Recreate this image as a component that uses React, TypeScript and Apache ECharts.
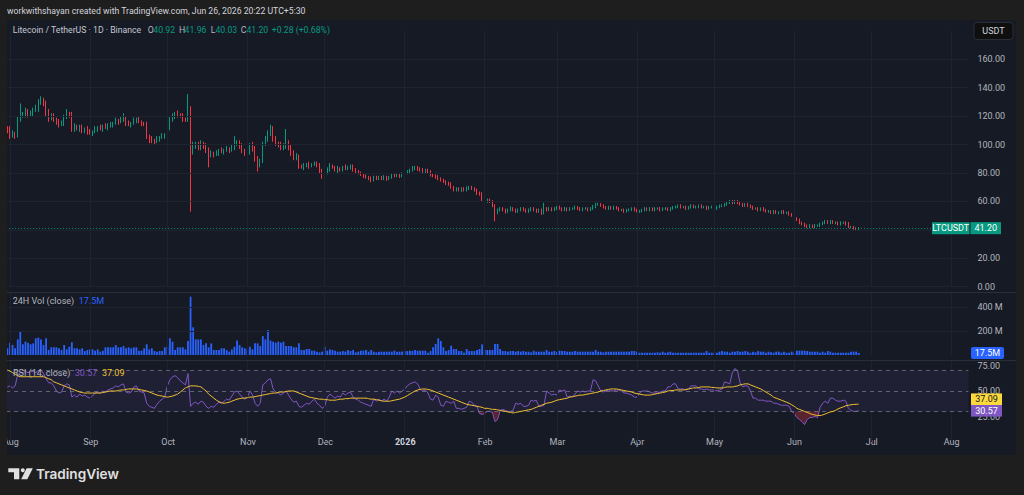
import React, { useEffect, useRef } from "react";
import * as echarts from "echarts";

// ---------- data (daily candles, first candle 2025-07-31) ----------
const FIRST_DATE = "2025-07-31";
const TOTAL_DAYS = 373; // visible time range incl. empty space on the right
const FIRST_OPEN = 111;

const closes = [
  110, 107, 108, 106, 118, 120, 121, 123, 121, 122,
  124, 125, 130, 132, 129, 122, 119, 120, 118, 116,
  114, 115, 119, 122, 121, 111, 113, 111, 112, 110,
  111, 109, 108, 109, 111, 112, 111, 113, 112, 113,
  114, 115, 117, 116, 118, 119, 115, 114, 115, 117,
  118, 116, 115, 114, 106, 104, 103, 102, 104, 105,
  106, 107, 112, 117, 120, 122, 121, 120, 118, 117,
  126, 96, 99, 100, 98, 101, 99, 96, 93, 94,
  93, 94, 96, 95, 96, 97, 96, 98, 100, 101,
  99, 96, 94, 95, 99, 97, 90, 86, 88, 101,
  104, 108, 111, 104, 101, 100, 98, 99, 101, 98,
  94, 91, 92, 85, 84, 85, 86, 85, 86, 87,
  85, 82, 79, 80, 83, 85, 84, 82, 83, 82,
  84, 83, 84, 85, 82, 81, 80, 79, 78, 77,
  76, 75, 77, 76, 77, 76, 77, 76, 77, 79,
  78, 79, 78, 79, 80, 81, 82, 83, 84, 83,
  82, 81, 82, 81, 79, 78, 77, 76, 75, 74,
  73, 72, 70, 68, 69, 68, 69, 68, 69, 70,
  69, 68, 66, 65, 61, 60, 61, 60, 57, 52,
  54, 55, 54, 53, 54, 55, 54, 53, 54, 55,
  54, 53, 54, 55, 54, 53, 54, 52, 55, 54,
  55, 54, 55, 56, 55, 54, 55, 54, 55, 55,
  56, 55, 54, 55, 55, 54, 55, 56, 58, 58,
  57, 56, 55, 56, 55, 56, 55, 54, 54, 53,
  54, 54, 55, 54, 53, 53, 54, 55, 54, 55,
  54, 55, 55, 54, 55, 55, 54, 55, 56, 56,
  57, 56, 56, 55, 56, 57, 56, 56, 57, 56,
  56, 55, 56, 56, 55, 56, 57, 57, 58, 59,
  60, 59, 60, 59, 58, 57, 58, 57, 56, 55,
  55, 54, 55, 54, 53, 53, 52, 53, 52, 52,
  53, 52, 52, 51, 50, 48, 47, 45, 44, 43,
  42, 43, 42, 43, 43, 44, 45, 46, 45, 46,
  45, 45, 44, 45, 45, 44, 42, 42, 41, 40.92,
  41.2,
];

const wickUp = [
  2, 3, 2, 1, 2, 9, 2, 3, 2, 2,
  2, 3, 2, 2, 1, 2, 3, 2, 2, 1,
  2, 2, 2, 3, 1, 2, 2, 1, 2, 2,
  1, 2, 2, 1, 2, 1, 2, 1, 2, 2,
  2, 1, 2, 1, 2, 3, 1, 2, 1, 2,
  1, 2, 1, 1, 2, 1, 2, 1, 2, 1,
  2, 1, 2, 3, 2, 1, 2, 1, 2, 1,
  9.6, 1, 3, 2, 2, 2, 1, 2, 2, 2,
  1, 2, 1, 2, 1, 2, 1, 2, 6, 2,
  2, 2, 1, 2, 2, 3, 2, 2, 2, 1,
  2, 2, 3, 2, 2, 1, 2, 2, 10, 2,
  2, 2, 2, 1, 1, 2, 1, 2, 1, 1,
  1, 2, 1, 2, 1, 2, 1, 1, 2, 1,
  1, 2, 1, 1, 1, 1.5, 1, 1, 1, 1,
  1, 1.5, 1, 1, 1, 1, 1.5, 1, 1, 1,
  1, 1, 1, 1.5, 1, 1, 1, 2, 1, 1,
  1, 1.5, 1, 1, 1, 1, 1, 1.5, 1, 1,
  1, 1, 1.5, 1, 1, 1, 1, 1, 1.5, 1,
  1, 1, 1, 1, 1.5, 1, 1, 1, 1, 1,
  1, 1, 1, 1, 1, 1.5, 1, 1, 1, 1,
  1, 1, 1, 1, 1, 1, 1, 1, 4, 1,
  1, 0.8, 1, 0.8, 1, 0.8, 1, 0.8, 1, 0.8,
  1, 0.8, 1, 0.8, 1, 0.8, 1, 1.5, 1, 1,
  0.8, 1, 0.8, 1, 0.8, 1, 0.8, 1, 0.8, 1,
  0.8, 1, 0.8, 1, 0.8, 1, 0.8, 1, 0.8, 1,
  0.8, 1, 0.8, 1, 0.8, 1, 0.8, 1, 0.8, 1,
  0.8, 1, 0.8, 1, 0.8, 1, 0.8, 1, 0.8, 1,
  0.8, 1, 0.8, 1, 0.8, 1, 0.8, 1, 0.8, 1,
  1, 1, 1, 1, 0.8, 1, 0.8, 1, 0.8, 1,
  0.8, 1, 0.8, 1, 0.8, 1, 0.8, 1, 0.8, 1,
  0.8, 1, 0.8, 1, 0.8, 1, 0.8, 1, 0.8, 1,
  0.8, 1, 0.8, 1, 0.8, 1, 0.8, 1, 0.8, 1,
  0.8, 1, 0.8, 1, 0.8, 1, 1.5, 0.8, 0.8, 0.8,
  0.76,
];

const wickDn = [
  2, 3, 2, 2, 1, 2, 1, 2, 2, 1,
  2, 1, 2, 2, 2, 2, 3, 2, 2, 2,
  2, 1, 2, 1, 2, 2, 2, 1, 2, 2,
  2, 2, 1, 2, 1, 2, 1, 2, 1, 2,
  1, 2, 1, 2, 1, 2, 2, 1, 2, 1,
  2, 1, 2, 1, 2, 3, 2, 2, 1, 2,
  1, 2, 1, 2, 1, 2, 2, 1, 2, 1,
  1, 43.2, 3, 2, 2, 2, 2, 2, 9, 2,
  2, 1, 2, 1, 2, 1, 2, 1, 2, 1,
  2, 2, 2, 1, 2, 2, 2, 5, 2, 1,
  2, 2, 2, 2, 2, 2, 2, 2, 2, 2,
  2, 2, 2, 2, 1, 2, 1, 2, 1, 1,
  1, 2, 3, 1, 1, 2, 1, 1, 2, 1,
  1, 1, 1, 1.5, 1, 1, 1, 1, 1.5, 1,
  1, 1.5, 1, 1, 1, 1, 1, 1.5, 1, 1,
  1, 1, 1.5, 1, 1, 1, 1, 1, 1, 1.5,
  1, 1, 1, 1, 1.5, 1, 1, 1, 1, 1,
  1.5, 1, 1, 1, 1, 1, 1.5, 1, 1, 1,
  1, 1, 1.5, 1, 1, 1, 1, 1, 1, 6,
  1, 1, 1, 1.5, 1, 1, 1, 1, 1, 1,
  1, 1, 1, 1, 1, 1, 1, 1.5, 1, 1,
  0.8, 1, 0.8, 1, 0.8, 1, 0.8, 1, 0.8, 1,
  0.8, 1, 0.8, 1, 0.8, 1, 0.8, 1, 0.8, 1,
  0.8, 1, 0.8, 1, 0.8, 1, 0.8, 1, 0.8, 1,
  0.8, 1, 0.8, 1, 0.8, 1, 0.8, 1, 0.8, 1,
  0.8, 1, 0.8, 1, 0.8, 1, 0.8, 1, 0.8, 1,
  0.8, 1, 0.8, 1, 0.8, 1, 0.8, 1, 0.8, 1,
  0.8, 1, 0.8, 1, 0.8, 1, 0.8, 1, 0.8, 1,
  0.8, 1, 0.8, 1, 0.8, 1, 0.8, 1, 0.8, 1,
  0.8, 1, 0.8, 1, 0.8, 1, 0.8, 1, 0.8, 1,
  0.8, 1, 0.8, 1, 0.8, 1, 0.8, 1, 0.8, 1,
  0.8, 1, 0.8, 1, 0.8, 1, 0.8, 1, 0.8, 1,
  0.8, 1, 0.8, 1, 0.8, 1, 0.8, 1, 0.8, 1,
  0.89,
];

// 24H volume, millions
const volumes = [
  56, 103, 83, 56, 130, 195, 89, 111, 103, 89,
  97, 139, 145, 130, 83, 139, 42, 64, 64, 64,
  56, 42, 83, 47, 69, 106, 56, 56, 47, 56,
  33, 42, 47, 47, 36, 47, 28, 36, 64, 64,
  64, 64, 83, 64, 64, 75, 56, 64, 56, 64,
  64, 36, 36, 56, 89, 47, 56, 33, 28, 33,
  33, 64, 69, 139, 111, 42, 64, 64, 64, 47,
  117, 486, 231, 130, 130, 130, 83, 97, 64, 97,
  42, 42, 42, 56, 56, 42, 28, 47, 69, 120,
  83, 64, 56, 47, 69, 47, 97, 97, 75, 158,
  130, 209, 120, 111, 103, 111, 103, 111, 75, 75,
  75, 64, 64, 97, 42, 42, 50, 50, 36, 36,
  28, 22, 28, 69, 36, 47, 42, 36, 28, 28,
  33, 28, 42, 33, 42, 22, 28, 36, 36, 42,
  28, 42, 28, 22, 28, 28, 28, 28, 28, 28,
  36, 28, 28, 28, 33, 33, 36, 33, 42, 36,
  36, 36, 36, 19, 33, 64, 92, 139, 117, 64,
  33, 42, 78, 50, 50, 33, 33, 19, 50, 33,
  33, 33, 42, 50, 89, 42, 42, 42, 42, 92,
  92, 50, 33, 33, 28, 33, 33, 28, 33, 28,
  33, 28, 28, 22, 36, 28, 28, 28, 28, 42,
  28, 28, 33, 28, 36, 33, 33, 28, 28, 28,
  33, 28, 28, 28, 28, 28, 28, 28, 42, 28,
  28, 22, 28, 28, 28, 28, 28, 28, 28, 28,
  28, 28, 33, 33, 28, 19, 19, 19, 19, 19,
  19, 19, 22, 19, 28, 19, 22, 28, 19, 19,
  19, 19, 19, 19, 19, 19, 19, 19, 19, 19,
  19, 33, 19, 19, 19, 19, 28, 33, 28, 28,
  19, 28, 28, 33, 28, 28, 33, 28, 19, 28,
  22, 33, 28, 28, 19, 28, 22, 19, 28, 28,
  19, 28, 19, 19, 28, 19, 36, 36, 36, 36,
  33, 28, 28, 28, 28, 19, 28, 19, 33, 28,
  19, 19, 19, 19, 19, 19, 19, 28, 28, 28,
  17.5,
];

const rsi = [
  54, 55, 53, 55, 66, 68, 68, 69, 68, 69,
  69, 68, 70, 71, 67, 62, 58, 58, 55, 50,
  48, 49, 55, 57, 56, 44, 46, 44, 47, 45,
  46, 44, 43, 45, 48, 49, 48, 50, 49, 51,
  52, 53, 55, 54, 56, 57, 49, 48, 49, 54,
  55, 50, 49, 48, 38, 35, 34, 33, 37, 40,
  42, 44, 55, 61, 64, 65, 63, 60, 58, 56,
  67, 35, 38, 39, 37, 40, 39, 35, 33, 35,
  34, 37, 39, 38, 40, 42, 41, 45, 49, 50,
  47, 44, 42, 44, 50, 46, 38, 35, 38, 56,
  58, 61, 62, 52, 49, 48, 46, 48, 50, 46,
  42, 39, 40, 35, 34, 36, 38, 37, 40, 42,
  38, 36, 33, 35, 44, 47, 45, 43, 45, 44,
  48, 46, 48, 49, 44, 42, 41, 39, 38, 37,
  36, 35, 42, 40, 42, 40, 42, 40, 44, 50,
  48, 50, 48, 50, 52, 55, 57, 58, 59, 57,
  52, 50, 51, 48, 42, 41, 46, 44, 36, 35,
  40, 39, 38, 40, 33, 33, 32, 33, 34, 40,
  39, 36, 35, 28, 27, 28, 30, 30, 29, 20,
  22, 31, 32, 31, 30, 30, 31, 38, 37, 38,
  35, 35, 36, 41, 40, 41, 35, 35, 36, 50,
  48, 46, 47, 46, 51, 50, 51, 44, 45, 44,
  47, 50, 49, 50, 49, 50, 50, 61, 60, 55,
  50, 49, 50, 51, 50, 50, 51, 51, 50, 48,
  48, 47, 46, 44, 44, 48, 50, 50, 50, 49,
  48, 48, 48, 49, 50, 50, 54, 54, 57, 57,
  52, 52, 52, 51, 52, 55, 55, 55, 52, 52,
  51, 52, 51, 51, 51, 50, 51, 52, 59, 58,
  57, 68, 72, 70, 58, 54, 55, 55, 50, 43,
  43, 41, 41, 41, 40, 40, 40, 38, 38, 37,
  36, 36, 36, 35, 30, 28, 24, 22, 20, 17,
  22, 24, 24, 25, 24, 34, 38, 40, 38, 43,
  43, 41, 40, 40, 41, 40, 33, 31, 30, 30,
  30.57,
];

const rsiMa = [
  70.6, 69.5, 68, 66.5, 65, 64, 64, 64, 64, 64,
  64, 64, 64, 64, 64, 63, 62, 61, 59, 58,
  57, 56, 55, 54, 53, 52, 51, 50, 49, 48.5,
  48, 48, 48, 48, 48, 48, 48, 48.5, 49, 49.5,
  50, 50, 50, 50.5, 51, 51, 51.5, 52, 52, 52,
  52, 51.5, 51, 50.5, 50, 49, 48, 47, 46, 45.5,
  45, 44.5, 44, 44.5, 45, 46, 47, 49, 51, 53,
  54, 55, 55, 55, 54.5, 54, 52, 50, 47, 45,
  43, 41, 39.5, 38.5, 38, 38.5, 39, 40, 41, 42,
  42.5, 43, 43, 43.5, 44, 44, 44.5, 45, 45.5, 46,
  46.5, 47, 47.5, 48, 48, 48.5, 49, 49, 49.5, 50,
  50, 50, 49, 48, 47, 46, 45, 44, 43.5, 43,
  42.5, 42, 42, 41.5, 41.5, 41, 41, 41, 41.5, 42,
  42, 42.5, 42.5, 43, 43, 43, 43, 43, 43, 43,
  42.5, 42, 42, 41.5, 41, 40.5, 40, 40, 40, 40.5,
  41, 41.5, 42, 43, 44, 45.5, 47, 48.5, 50, 51,
  51.5, 52, 52, 51.5, 51, 50, 49, 48, 47, 46,
  45, 44, 43, 42, 41, 40, 39, 38, 37, 36.5,
  36, 35.5, 35, 34.5, 34, 33, 33, 32.5, 32, 32,
  31.5, 31, 30.5, 30, 29.5, 29, 28.5, 29, 29.5, 30,
  30.5, 31, 31.5, 32, 33, 34, 35, 36, 37, 38,
  38.5, 39, 40, 41, 41.5, 42, 42.5, 43, 44, 44.5,
  45, 45.5, 46, 46, 46.5, 47, 47.5, 48, 48.5, 49,
  50, 50.5, 51, 51.5, 52, 52, 52, 51.5, 51, 50.5,
  50, 49.5, 49, 48, 47.5, 47, 46.5, 46, 46, 46,
  46.5, 47, 47.5, 48, 48.5, 49, 50, 50.5, 50.5, 51,
  51, 51, 51, 51.5, 52, 52.5, 53, 53, 53.5, 54,
  54, 54, 54, 53.5, 53.5, 53, 53, 53, 53.5, 54,
  54, 54, 54.5, 55, 56, 56.5, 57, 57, 56, 55,
  54, 53, 52, 50.5, 49, 47.5, 46, 44, 43, 42,
  41, 40, 39, 38, 36.5, 35, 33, 32, 31, 30,
  29, 28, 27, 26.5, 26, 26, 26.5, 27.5, 28.5, 29.5,
  30, 31, 32.5, 33.5, 34.5, 35.5, 36, 36.5, 36.8, 37,
  37.09,
];

const priceTicks = [0, 20, 40, 60, 80, 100, 120, 140, 160];
const volumeTicks = [200, 400];
const rsiTicks = [25, 50, 75];
const rsiLevels = [70, 50, 30];
const monthTicks: [string, string][] = [
  ["2025-08-01", "Aug"],
  ["2025-09-01", "Sep"],
  ["2025-10-01", "Oct"],
  ["2025-11-01", "Nov"],
  ["2025-12-01", "Dec"],
  ["2026-01-01", "2026"],
  ["2026-02-01", "Feb"],
  ["2026-03-01", "Mar"],
  ["2026-04-01", "Apr"],
  ["2026-05-01", "May"],
  ["2026-06-01", "Jun"],
  ["2026-07-01", "Jul"],
  ["2026-08-01", "Aug"],
];

// ---------- styling ----------
const OUTER = "#1e1e1e";
const PANEL = "#161a25";
const GRIDLINE = "#1f2330";
const UP = "#089981";
const DOWN = "#f23645";
const VOL = "#2962ff";
const RSI_C = "#7e57c2";
const MA_C = "#f2c230";
const AXIS_TXT = "#b2b5be";
const FONT = "Roboto, 'Noto Sans', sans-serif";
const HEAD_SIZE = 8.7;

const GRID_LEFT = 6.11;
const PLOT_W = 962.3;

export default function App() {
  const ref = useRef<HTMLDivElement>(null);

  useEffect(() => {
    if (!ref.current) return;
    const chart = echarts.init(ref.current, undefined, { renderer: "svg" });

    const base = Date.parse(FIRST_DATE + "T00:00:00Z");
    const categories = Array.from({ length: TOTAL_DAYS }, (_, i) =>
      new Date(base + i * 86400000).toISOString().slice(0, 10)
    );
    const tickMap = new Map(monthTicks);

    const opens = closes.map((c, i) => (i === 0 ? FIRST_OPEN : closes[i - 1]));
    const candles = closes.map((c, i) => {
      const o = opens[i];
      const hi = Math.max(o, c) + wickUp[i];
      const lo = Math.min(o, c) - wickDn[i];
      return [o, c, +lo.toFixed(2), +hi.toFixed(2)];
    });
    const n = closes.length;
    const last = candles[n - 1];
    const lastVol = volumes[volumes.length - 1];
    const lastRsi = rsi[rsi.length - 1];
    const lastMa = rsiMa[rsiMa.length - 1];

    const monthLines = monthTicks.map(([d]) => ({ xAxis: d }));
    const gridStyle = { color: GRIDLINE, width: 1, type: "solid" as const };

    const xAxes = [0, 1, 2, 3].map((g) => ({
      type: "category" as const,
      gridIndex: g,
      data: categories,
      boundaryGap: true,
      axisLine: { show: false },
      axisTick: { show: false },
      splitLine: { show: false },
      axisLabel:
        g === 3
          ? {
              show: true,
              interval: (_: number, val: string) => tickMap.has(val),
              formatter: (val: string) => {
                const t = tickMap.get(val) || "";
                return /^\d{4}$/.test(t) ? "{b|" + t + "}" : t;
              },
              color: AXIS_TXT,
              fontSize: 9,
              fontFamily: FONT,
              margin: 3,
              rich: { b: { fontWeight: "bold", color: "#d1d4dc", fontSize: 9, fontFamily: FONT } },
            }
          : { show: false },
    }));

    const yCommon = {
      type: "value" as const,
      position: "right" as const,
      axisLine: { show: false },
      axisTick: { show: false },
      splitLine: { show: false },
    };

    const markBase = {
      silent: true,
      symbol: ["none", "none"],
      label: { show: false },
      animation: false,
      lineStyle: gridStyle,
    };

    // TradingView hides scale labels that sit under the last-price badge
    const PRICE_PX = 255.8 / 180;
    const hiddenByBadge = (v: number) => Math.abs(v - last[1]) * PRICE_PX < 9;

    const option: any = {
      animation: false,
      backgroundColor: PANEL,
      textStyle: { fontFamily: FONT },
      grid: [
        { left: GRID_LEFT, width: PLOT_W, top: 30.9, height: 255.8 },
        { left: GRID_LEFT, width: PLOT_W, top: 292.6, height: 62.4 },
        { left: GRID_LEFT, width: PLOT_W, top: 360.4, height: 81.6 },
        { left: GRID_LEFT, width: PLOT_W, top: 430, height: 4 },
      ],
      xAxis: xAxes,
      yAxis: [
        {
          ...yCommon,
          gridIndex: 0,
          min: 0,
          max: 180,
          interval: 20,
          axisLabel: {
            formatter: (v: number) =>
              priceTicks.includes(v) && !hiddenByBadge(v) ? v.toFixed(2) : "",
            color: AXIS_TXT,
            fontSize: 9,
            fontFamily: FONT,
            margin: 9,
          },
        },
        {
          ...yCommon,
          gridIndex: 1,
          min: 0,
          max: 520,
          interval: 200,
          axisLabel: {
            formatter: (v: number) => (volumeTicks.includes(v) ? v + " M" : ""),
            color: AXIS_TXT,
            fontSize: 9,
            fontFamily: FONT,
            margin: 9,
          },
        },
        {
          ...yCommon,
          gridIndex: 2,
          min: 0,
          max: 80,
          interval: 25,
          axisLabel: {
            formatter: (v: number) => (rsiTicks.includes(v) ? v.toFixed(2) : ""),
            color: AXIS_TXT,
            fontSize: 9,
            fontFamily: FONT,
            margin: 9,
          },
        },
        { ...yCommon, gridIndex: 3, min: 0, max: 1, show: false },
      ],
      series: [
        {
          type: "line",
          xAxisIndex: 0,
          yAxisIndex: 0,
          data: [],
          z: 1,
          markLine: { ...markBase, data: [...monthLines, ...priceTicks.map((v) => ({ yAxis: v }))] },
        },
        {
          type: "candlestick",
          xAxisIndex: 0,
          yAxisIndex: 0,
          data: candles,
          barWidth: 1.2,
          z: 3,
          itemStyle: {
            color: UP,
            color0: DOWN,
            borderColor: UP,
            borderColor0: DOWN,
            borderWidth: 1,
          },
          markLine: {
            silent: true,
            symbol: ["none", "none"],
            label: { show: false },
            animation: false,
            data: [{ yAxis: last[1] }],
            lineStyle: { color: UP, width: 1, type: [1, 2], opacity: 0.9 },
          },
        },
        {
          type: "line",
          xAxisIndex: 1,
          yAxisIndex: 1,
          data: [],
          z: 1,
          markLine: { ...markBase, data: [...monthLines, ...volumeTicks.map((v) => ({ yAxis: v }))] },
        },
        {
          type: "bar",
          xAxisIndex: 1,
          yAxisIndex: 1,
          data: volumes,
          barWidth: 1.8,
          z: 3,
          itemStyle: { color: VOL },
        },
        {
          type: "line",
          xAxisIndex: 2,
          yAxisIndex: 2,
          data: [],
          z: 1,
          markLine: { ...markBase, data: monthLines },
          markArea: {
            silent: true,
            itemStyle: { color: "rgba(126,87,194,0.10)" },
            data: [[{ yAxis: rsiLevels[2] }, { yAxis: rsiLevels[0] }]],
          },
        },
        {
          type: "line",
          xAxisIndex: 2,
          yAxisIndex: 2,
          data: [],
          z: 2,
          markLine: {
            silent: true,
            symbol: ["none", "none"],
            label: { show: false },
            animation: false,
            data: rsiLevels.map((v) => ({ yAxis: v })),
            lineStyle: { color: "rgba(120,123,134,0.75)", width: 1, type: [4, 4] },
          },
        },
        {
          type: "line",
          xAxisIndex: 2,
          yAxisIndex: 2,
          data: rsi.map((v) => Math.min(v, rsiLevels[2])),
          symbol: "none",
          z: 3,
          lineStyle: { width: 0, opacity: 0 },
          areaStyle: { origin: rsiLevels[2], color: "rgba(242,54,69,0.45)" },
        },
        {
          type: "line",
          xAxisIndex: 2,
          yAxisIndex: 2,
          data: rsi.map((v) => Math.max(v, rsiLevels[0])),
          symbol: "none",
          z: 3,
          lineStyle: { width: 0, opacity: 0 },
          areaStyle: { origin: rsiLevels[0], color: "rgba(8,153,129,0.45)" },
        },
        {
          type: "line",
          xAxisIndex: 2,
          yAxisIndex: 2,
          data: rsi,
          symbol: "none",
          z: 4,
          lineStyle: { color: RSI_C, width: 1 },
        },
        {
          type: "line",
          xAxisIndex: 2,
          yAxisIndex: 2,
          data: rsiMa,
          symbol: "none",
          smooth: 0.3,
          z: 5,
          lineStyle: { color: MA_C, width: 1 },
        },
        {
          type: "line",
          xAxisIndex: 3,
          yAxisIndex: 3,
          data: [],
        },
      ],
    };

    chart.setOption(option);

    // ---------- overlay annotations positioned via the axes ----------
    const yPrice = chart.convertToPixel({ yAxisIndex: 0 }, last[1]) as number;
    const yVol = chart.convertToPixel({ yAxisIndex: 1 }, lastVol) as number;
    let yRsi = chart.convertToPixel({ yAxisIndex: 2 }, lastRsi) as number;
    let yMa = chart.convertToPixel({ yAxisIndex: 2 }, lastMa) as number;
    const BOX_H = 11.6;
    if (Math.abs(yRsi - yMa) < BOX_H) {
      if (yMa <= yRsi) yMa = yRsi - BOX_H;
      else yRsi = yMa - BOX_H;
    }

    const txt = (
      x: number,
      y: number,
      text: string,
      fill: string,
      size = 9,
      extra: any = {}
    ) => ({
      type: "text",
      x,
      y,
      z: 120,
      silent: true,
      style: {
        text,
        fill,
        font: `${extra.weight || "normal"} ${size}px ${extra.family || FONT}`,
        textAlign: extra.align || "left",
        textVerticalAlign: "middle",
        verticalAlign: "middle",
        rich: extra.rich,
      },
    });
    const box = (x: number, y: number, w: number, h: number, fill: string, r = 0) => ({
      type: "rect",
      z: 115,
      silent: true,
      shape: { x, y, width: w, height: h, r },
      style: { fill },
    });

    const o = last[0];
    const c = last[1];
    const chg = c - o;
    const pct = (chg / o) * 100;
    const sign = chg >= 0 ? "+" : "−";
    const valColor = chg >= 0 ? UP : DOWN;
    const legendColor = "#b2b5be";

    const paneLegend = (x: number, y: number, parts: [string, string][]) =>
      txt(
        x,
        y,
        parts.map((p, i) => `{p${i}|${p[0]}}`).join("  "),
        legendColor,
        9,
        {
          rich: Object.fromEntries(
            parts.map((p, i) => [`p${i}`, { fill: p[1], color: p[1], fontSize: 9, fontFamily: FONT }])
          ),
        }
      );

    const graphic: any[] = [
      // outer frame
      box(0, 0, 1024, 20, OUTER),
      box(0, 455, 1024, 40, OUTER),
      box(0, 0, 7, 495, OUTER),
      box(1016, 0, 8, 495, OUTER),
      // pane separators
      {
        type: "line",
        z: 110,
        silent: true,
        shape: { x1: 7, y1: 292.5, x2: 1016, y2: 292.5 },
        style: { stroke: "#2a2e39", lineWidth: 1 },
      },
      {
        type: "line",
        z: 110,
        silent: true,
        shape: { x1: 7, y1: 360.5, x2: 1016, y2: 360.5 },
        style: { stroke: "#2a2e39", lineWidth: 1 },
      },
      // header
      txt(7, 11, "workwithshayan created with TradingView.com, Jun 26, 2026 20:22 UTC+5:30", "#d1d4dc", HEAD_SIZE),
      txt(12.7, 30, "Litecoin / TetherUS · 1D · Binance", "#c4c7cf", HEAD_SIZE),
      txt(147.7, 30, "O", legendColor, HEAD_SIZE),
      txt(153.3, 30, o.toFixed(2), valColor, HEAD_SIZE),
      txt(179, 30, "H", legendColor, HEAD_SIZE),
      txt(184.6, 30, last[3].toFixed(2), valColor, HEAD_SIZE),
      txt(210.7, 30, "L", legendColor, HEAD_SIZE),
      txt(215.4, 30, last[2].toFixed(2), valColor, HEAD_SIZE),
      txt(240.7, 30, "C", legendColor, HEAD_SIZE),
      txt(246.4, 30, c.toFixed(2), valColor, HEAD_SIZE),
      txt(
        271.7,
        30,
        `${sign}${Math.abs(chg).toFixed(2)} (${sign}${Math.abs(pct).toFixed(2)}%)`,
        valColor,
        HEAD_SIZE
      ),
      // USDT button
      {
        type: "rect",
        z: 115,
        silent: true,
        shape: { x: 974, y: 22.5, width: 39, height: 17, r: 3 },
        style: { fill: "#0f0f0f", stroke: "#2a2e39", lineWidth: 1 },
      },
      txt(993.5, 31, "USDT", "#d1d4dc", 9, { align: "center" }),
      // pane legends
      paneLegend(12.7, 300.5, [
        ["24H Vol (close)", legendColor],
        [lastVol.toFixed(1) + "M", VOL],
      ]),
      paneLegend(13, 372.5, [
        ["RSI (14, close)", legendColor],
        [lastRsi.toFixed(2), RSI_C],
        [lastMa.toFixed(2), MA_C],
      ]),
      // last price label
      box(932, yPrice - 6, 37.5, 12, UP),
      txt(950.7, yPrice, "LTCUSDT", "#ffffff", 9, { align: "center" }),
      box(970.5, yPrice - 6, 30.5, 12, UP),
      txt(985.7, yPrice, c.toFixed(2), "#ffffff", 9, { align: "center" }),
      // volume label
      box(971, yVol - 6, 33, 12, VOL, 2),
      txt(987.5, yVol, lastVol.toFixed(1) + "M", "#ffffff", 9, { align: "center" }),
      // RSI labels
      box(971, yMa - BOX_H / 2, 31, BOX_H, "#fbd93c"),
      txt(986.5, yMa, lastMa.toFixed(2), "#131722", 9, { align: "center" }),
      box(971, yRsi - BOX_H / 2, 31, BOX_H, RSI_C),
      txt(986.5, yRsi, lastRsi.toFixed(2), "#ffffff", 9, { align: "center" }),
      // TradingView footer logo
      {
        type: "polygon",
        z: 120,
        silent: true,
        shape: {
          points: [
            [8.3, 468.3],
            [19.3, 468.3],
            [19.3, 479.3],
            [14, 479.3],
            [14, 472.3],
            [8.3, 472.3],
          ],
        },
        style: { fill: "#e0e0e0" },
      },
      {
        type: "circle",
        z: 120,
        silent: true,
        shape: { cx: 22.8, cy: 470.3, r: 2 },
        style: { fill: "#e0e0e0" },
      },
      {
        type: "polygon",
        z: 120,
        silent: true,
        shape: {
          points: [
            [26.6, 468.3],
            [32.8, 468.3],
            [27.3, 479.3],
            [21.1, 479.3],
          ],
        },
        style: { fill: "#e0e0e0" },
      },
      txt(36, 474, "TradingView", "#e0e0e0", 13.6, { weight: 600, family: "Inter, Roboto, sans-serif" }),
    ];

    chart.setOption({ graphic });

    return () => chart.dispose();
  }, []);

  return (
    <div
      ref={ref}
      style={{ position: "fixed", left: 0, top: 0, width: 1024, height: 495, background: OUTER }}
    />
  );
}
